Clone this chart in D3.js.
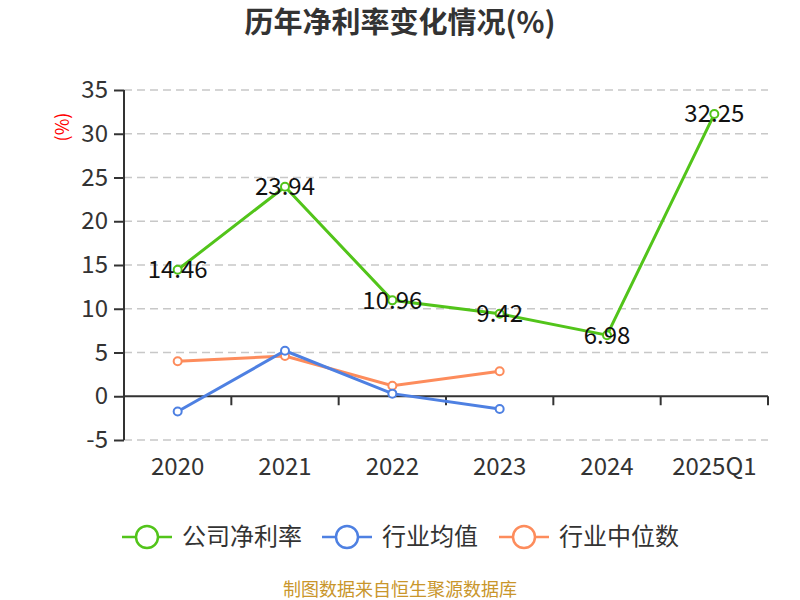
<!DOCTYPE html>
<meta charset='utf-8'>
<head>
    <title>历年净利率变化情况</title>
    <script src='https://cdn.jsdelivr.net/npm/d3@7/dist/d3.min.js'></script>
</head>

<style>
    body { margin: 0; background: #fff; }
    text { font-family: 'Noto Sans CJK SC', 'Noto Sans', sans-serif; }
    .grid line { stroke: #c8c8c8; stroke-dasharray: 8 5; stroke-width: 1.5px; }
    .axis path, .axis line { stroke: #333; stroke-width: 2px; }
    .axis text { fill: #333; font-size: 24px; }
</style>

<svg></svg>

<script>
    // data
    var years = ['2020', '2021', '2022', '2023', '2024', '2025Q1'];
    var companyRate = [14.46, 23.94, 10.96, 9.42, 6.98, 32.25];
    var industryAvg = [-1.75, 5.2, 0.3, -1.45];
    var industryMedian = [4.0, 4.6, 1.2, 2.85];
    var yTicks = [-5, 0, 5, 10, 15, 20, 25, 30, 35];

    var seriesNames = ['公司净利率', '行业均值', '行业中位数'];
    var seriesColors = ['#52c41a', '#4e80e2', '#fd8c5c'];
    var seriesData = [companyRate, industryAvg, industryMedian];

    var vWidth = 800, vHeight = 600;
    var mLeft = 124, mRight = 768, mTop = 90, mBottom = 440;

    var svg = d3.select('svg').attr('width', vWidth).attr('height', vHeight);

    var x = d3.scaleBand().domain(years).range([mLeft, mRight]);
    var y = d3.scaleLinear().domain([-5, 35]).range([mBottom, mTop]);

    // grid
    svg.append('g').attr('class', 'grid')
        .selectAll('line').data(yTicks.filter(function (d) { return d !== 0; })).enter().append('line')
        .attr('x1', mLeft).attr('x2', mRight)
        .attr('y1', function (d) { return y(d); }).attr('y2', function (d) { return y(d); });

    // y axis
    var yAxis = svg.append('g').attr('class', 'axis')
        .attr('transform', 'translate(' + mLeft + ',0)')
        .call(d3.axisLeft(y).tickValues(yTicks).tickSize(10).tickPadding(6)
            .tickFormat(function (d) { return String(d); }));
    yAxis.select('.domain').attr('d', 'M0,' + mTop + 'V' + mBottom);

    // x axis on zero line
    var xAxis = svg.append('g').attr('class', 'axis')
        .attr('transform', 'translate(0,' + y(0) + ')')
        .call(d3.axisBottom(x).tickSize(0).tickPadding(0));
    xAxis.select('.domain').attr('d', 'M' + mLeft + ',0H' + mRight);
    xAxis.selectAll('.tick text').attr('y', mBottom - y(0) + 35).attr('dy', '0');
    xAxis.selectAll('.sep').data(years).enter().append('line')
        .attr('x1', function (d) { return x(d) + x.bandwidth(); })
        .attr('x2', function (d) { return x(d) + x.bandwidth(); })
        .attr('y1', 0).attr('y2', 9);

    // unit label
    svg.append('text').attr('transform', 'translate(69,127) rotate(-90)')
        .attr('text-anchor', 'middle').attr('fill', '#f00').attr('font-size', 18).text('(%)');

    // lines
    var line = d3.line()
        .x(function (d, i) { return x(years[i]) + x.bandwidth() / 2; })
        .y(function (d) { return y(d); });

    [2, 1, 0].forEach(function (k) {
        var g = svg.append('g');
        g.append('path').attr('d', line(seriesData[k]))
            .attr('fill', 'none').attr('stroke', seriesColors[k]).attr('stroke-width', 3);
        g.selectAll('circle').data(seriesData[k]).enter().append('circle')
            .attr('cx', function (d, i) { return x(years[i]) + x.bandwidth() / 2; })
            .attr('cy', function (d) { return y(d); })
            .attr('r', 4).attr('fill', '#fff')
            .attr('stroke', seriesColors[k]).attr('stroke-width', 2);
    });

    // labels for company rate
    svg.append('g').selectAll('text').data(companyRate).enter().append('text')
        .attr('x', function (d, i) { return x(years[i]) + x.bandwidth() / 2; })
        .attr('y', function (d) { return y(d); })
        .attr('dy', '0.35em').attr('text-anchor', 'middle')
        .attr('font-size', 24).attr('fill', '#111')
        .text(function (d) { return d.toFixed(2); });

    // title
    svg.append('text').attr('x', 400).attr('y', 33).attr('text-anchor', 'middle')
        .attr('font-size', 29).attr('font-weight', 'bold').attr('fill', '#333')
        .text('历年净利率变化情况(%)');

    // legend
    var legendX = [122, 322, 499];
    var legend = svg.append('g').selectAll('g').data(seriesNames).enter().append('g')
        .attr('transform', function (d, i) { return 'translate(' + legendX[i] + ',537)'; });
    legend.append('line').attr('x1', 0).attr('x2', 50)
        .attr('stroke', function (d, i) { return seriesColors[i]; }).attr('stroke-width', 2.5);
    legend.append('circle').attr('cx', 25).attr('r', 11).attr('fill', '#fff')
        .attr('stroke', function (d, i) { return seriesColors[i]; }).attr('stroke-width', 2.5);
    legend.append('text').attr('x', 60).attr('dy', '0.35em')
        .attr('font-size', 24).attr('fill', '#333').text(function (d) { return d; });

    // footer
    svg.append('text').attr('x', 400).attr('y', 596).attr('text-anchor', 'middle')
        .attr('font-size', 18).attr('fill', '#c9962b').text('制图数据来自恒生聚源数据库');
</script>
